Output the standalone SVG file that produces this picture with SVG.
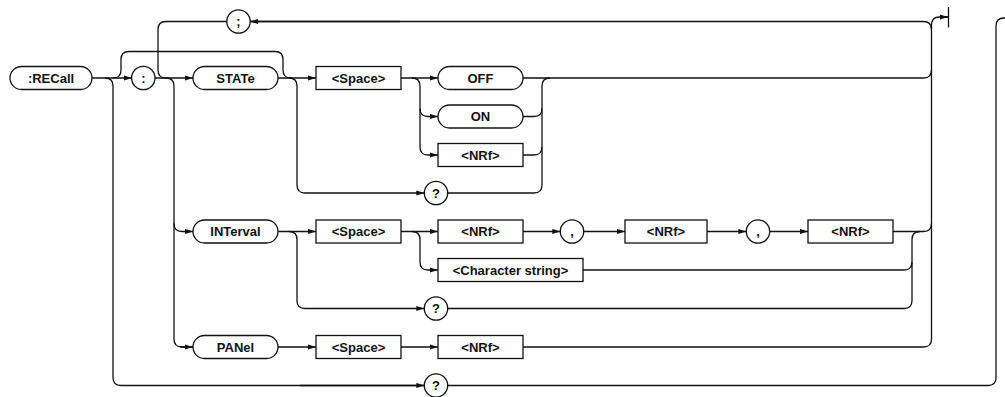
<svg xmlns="http://www.w3.org/2000/svg" width="1005" height="397" viewBox="0 0 1005 397">
<style>
.s{fill:#fff;stroke:#111;stroke-width:1.3}
.t{font-family:"Liberation Sans",Arial,sans-serif;font-weight:bold;font-size:13px;fill:#111;text-anchor:middle}
.c{fill:none;stroke:#111;stroke-width:1.3}
.a{marker-end:url(#ah)}
</style>
<defs>
<marker id="ah" markerUnits="userSpaceOnUse" markerWidth="9" markerHeight="6" refX="8" refY="2.6" orient="auto">
<path d="M0,0 L8,2.6 L0,5.2 z" fill="#111"/>
</marker>
</defs>
<rect width="1005" height="397" fill="#fff"/>
<g id="connectors">
<!-- main line -->
<path class="c a" d="M92,78 H131.7"/>
<path class="c" d="M105,78 Q113,78 113,86 V377.5 Q113,385.5 121,385.5 H424.3"/>
<path class="c a" d="M300,385.5 H424.3"/>
<path class="c" d="M447.7,385.5 H988 Q996,385.5 996,377.5 V26 Q996,18 1004,18 H1006"/>
<path class="c" d="M113,78 Q121,78 121,70 V59.5 Q121,51.5 129,51.5 H275 Q283,51.5 283,59.5 V70 Q283,78 291,78"/>
<path class="c a" d="M155,78 H193"/>
<path class="c" d="M226.8,21.5 H166 Q158,21.5 158,29.5 V70 Q158,78 166,78"/>
<path class="c" d="M166,78 Q174,78 174,86 V339 Q174,347 182,347 H193"/>
<path class="c a" d="M180,347 H193"/>
<path class="c a" d="M174,223.5 Q174,231.5 182,231.5 H193"/>
<!-- STATe -->
<path class="c a" d="M278,78 H316"/>
<path class="c a" d="M289,78 Q297,78 297,86 V185 Q297,193 305,193 H424.3"/>
<path class="c a" d="M401,78 H438"/>
<path class="c a" d="M412,78 Q420,78 420,86 V147 Q420,155 428,155 H438"/>
<path class="c a" d="M420,108.5 Q420,116.5 428,116.5 H438"/>
<path class="c" d="M523,78 H923.5 Q931.5,78 931.5,70"/>
<path class="c" d="M447.7,193 H534 Q542,193 542,185 V86 Q542,78 550,78"/>
<path class="c" d="M523,155 H534 Q542,155 542,147"/>
<path class="c" d="M523,116.5 H534 Q542,116.5 542,108.5"/>
<!-- INTerval -->
<path class="c a" d="M278,231.5 H316"/>
<path class="c a" d="M289,231.5 Q297,231.5 297,239.5 V300.5 Q297,308.5 305,308.5 H424.3"/>
<path class="c a" d="M401,231.5 H438"/>
<path class="c a" d="M412,231.5 Q420,231.5 420,239.5 V262 Q420,270 428,270 H438"/>
<path class="c a" d="M523,231.5 H560.3"/>
<path class="c a" d="M583.7,231.5 H625"/>
<path class="c a" d="M707,231.5 H746.3"/>
<path class="c a" d="M769.7,231.5 H808"/>
<path class="c" d="M893,231.5 H923.5 Q931.5,231.5 931.5,223.5"/>
<path class="c" d="M447.7,308.5 H904 Q912,308.5 912,300.5 V239.5 Q912,231.5 920,231.5"/>
<path class="c" d="M583,270 H904 Q912,270 912,262"/>
<!-- PANel -->
<path class="c a" d="M278,347 H316"/>
<path class="c a" d="M401,347 H438"/>
<path class="c" d="M523,347 H923.5 Q931.5,347 931.5,339 V25 Q931.5,17 939.5,17 H948"/>
<path class="c a" d="M940,17 H948"/>
<path class="c" d="M948.5,7 V27.5"/>
<path class="c" d="M931.5,29.5 Q931.5,21.5 923.5,21.5 H250.2"/>
<path class="c a" d="M400,21.5 H250.2"/>
</g>
<g id="recall"><rect class="s" x="10" y="66.5" width="82" height="23" rx="11.5"/><text class="t" x="51" y="82.6">:RECall</text></g>
<g id="colon"><circle class="s" cx="143.3" cy="78" r="11.7"/><text class="t" x="143.3" y="82.6">:</text></g>
<g id="semicolon"><circle class="s" cx="238.5" cy="21.5" r="11.7"/><text class="t" x="238.5" y="26.1">;</text></g>
<g id="state"><rect class="s" x="193" y="66.5" width="85" height="23" rx="11.5"/><text class="t" x="235.5" y="82.6">STATe</text></g>
<g id="space1"><rect class="s" x="316" y="66.5" width="85" height="23"/><text class="t" x="358.5" y="82.6">&lt;Space&gt;</text></g>
<g id="off"><rect class="s" x="438" y="66.5" width="85" height="23" rx="11.5"/><text class="t" x="480.5" y="82.6">OFF</text></g>
<g id="on"><rect class="s" x="438" y="105" width="85" height="23" rx="11.5"/><text class="t" x="480.5" y="121.1">ON</text></g>
<g id="nrf1"><rect class="s" x="438" y="143.5" width="85" height="23"/><text class="t" x="480.5" y="159.6">&lt;NRf&gt;</text></g>
<g id="q1"><circle class="s" cx="436" cy="193" r="11.7"/><text class="t" x="436" y="197.6">?</text></g>
<g id="interval"><rect class="s" x="193" y="220" width="85" height="23" rx="11.5"/><text class="t" x="235.5" y="236.1">INTerval</text></g>
<g id="space2"><rect class="s" x="316" y="220" width="85" height="23"/><text class="t" x="358.5" y="236.1">&lt;Space&gt;</text></g>
<g id="nrf2"><rect class="s" x="438" y="220" width="85" height="23"/><text class="t" x="480.5" y="236.1">&lt;NRf&gt;</text></g>
<g id="comma1"><circle class="s" cx="572" cy="231.5" r="11.7"/><text class="t" x="572" y="236.1">,</text></g>
<g id="nrf3"><rect class="s" x="625" y="220" width="82" height="23"/><text class="t" x="666" y="236.1">&lt;NRf&gt;</text></g>
<g id="comma2"><circle class="s" cx="758" cy="231.5" r="11.7"/><text class="t" x="758" y="236.1">,</text></g>
<g id="nrf4"><rect class="s" x="808" y="220" width="85" height="23"/><text class="t" x="850.5" y="236.1">&lt;NRf&gt;</text></g>
<g id="charstring"><rect class="s" x="438" y="258.5" width="145" height="23"/><text class="t" x="510.5" y="274.6">&lt;Character string&gt;</text></g>
<g id="q2"><circle class="s" cx="436" cy="308.5" r="11.7"/><text class="t" x="436" y="313.1">?</text></g>
<g id="panel"><rect class="s" x="193" y="335.5" width="85" height="23" rx="11.5"/><text class="t" x="235.5" y="351.6">PANel</text></g>
<g id="space3"><rect class="s" x="316" y="335.5" width="85" height="23"/><text class="t" x="358.5" y="351.6">&lt;Space&gt;</text></g>
<g id="nrf5"><rect class="s" x="438" y="335.5" width="85" height="23"/><text class="t" x="480.5" y="351.6">&lt;NRf&gt;</text></g>
<g id="q3"><circle class="s" cx="436" cy="385.5" r="11.7"/><text class="t" x="436" y="390.1">?</text></g>
</svg>
